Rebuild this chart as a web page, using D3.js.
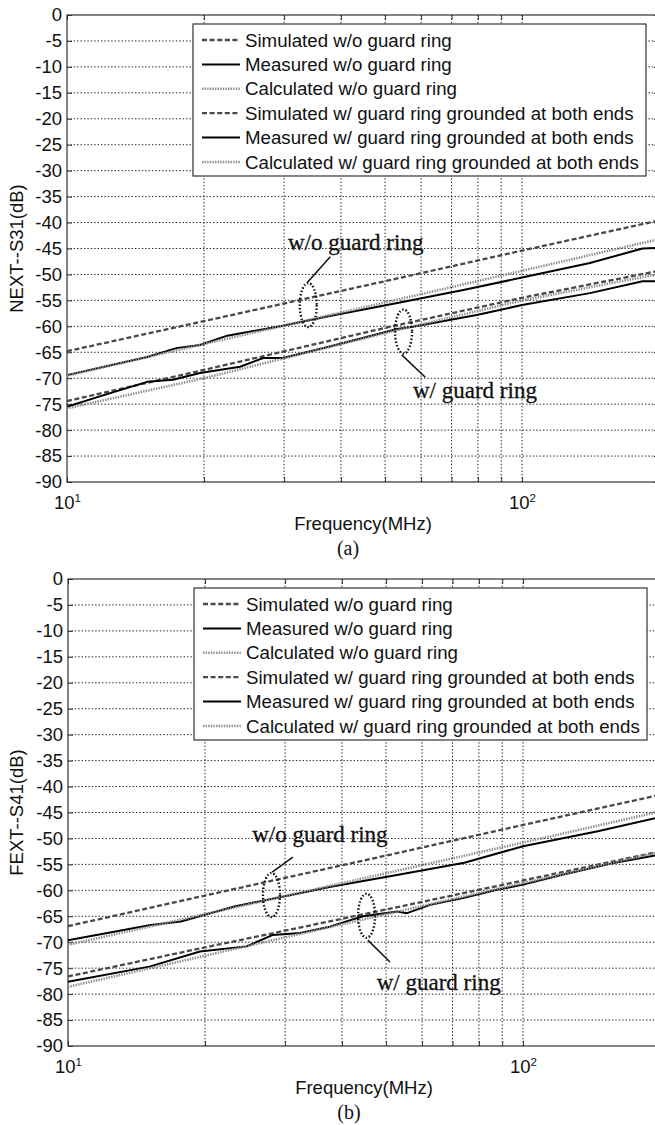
<!DOCTYPE html>
<html>
<head>
<meta charset="utf-8">
<script src="https://cdn.jsdelivr.net/npm/d3@7"></script>
<style>
    body { margin: 0; background: #fff; }
    svg { display: block; }
    text { font-family: "Liberation Sans", Arial, sans-serif; fill: #111; }
    .serif { font-family: "Liberation Serif", "Times New Roman", serif; }
</style>
</head>
<body>
<svg id="chart" width="655" height="1125"></svg>
<script>
// ticks
const freqTicks = [10, 20, 30, 40, 50, 60, 70, 80, 90, 100, 200];
const dbTicks = [0, -5, -10, -15, -20, -25, -30, -35, -40, -45, -50, -55, -60, -65, -70, -75, -80, -85, -90];

const legendLabels = [
    "Simulated w/o guard ring",
    "Measured w/o guard ring",
    "Calculated w/o guard ring",
    "Simulated w/ guard ring grounded at both ends",
    "Measured w/ guard ring grounded at both ends",
    "Calculated w/ guard ring grounded at both ends",
];

// simulated / calculated curves are straight on the log axis
const simFreq = [10, 20, 50, 100, 200];

// (a) NEXT--S31
const nextSimWo = [-64.8, -59.0, -51.3, -45.4, -39.6];
const nextCalcWo = [-69.5, -63.4, -55.4, -49.3, -43.2];
const nextSimW = [-74.4, -68.4, -60.3, -54.5, -49.3];
const nextCalcW = [-75.8, -70.0, -61.3, -55.0, -49.9];
const nextMeasWoFreq = [10, 15, 17.4, 19.6, 22.5, 29.8, 37.8, 53.2, 74.3, 100, 141, 184, 200];
const nextMeasWo = [-69.4, -65.9, -64.2, -63.6, -61.8, -59.9, -58.0, -55.5, -53.0, -50.6, -47.8, -45.0, -44.9];
const nextMeasWFreq = [10, 11.8, 15, 17.1, 19.6, 24, 27, 29.8, 37.8, 53.2, 57.5, 79.5, 100, 141, 184, 200];
const nextMeasW = [-75.5, -73.5, -70.7, -70.3, -69.0, -67.8, -66.1, -66.1, -63.9, -60.5, -60.1, -57.8, -55.9, -53.6, -51.3, -51.3];

// (b) FEXT--S41
const fextSimWo = [-66.9, -61.0, -53.3, -47.4, -41.6];
const fextCalcWo = [-70.5, -64.6, -56.7, -50.8, -44.8];
const fextSimW = [-76.6, -71.0, -63.7, -58.1, -52.5];
const fextCalcW = [-78.6, -72.6, -64.6, -58.6, -52.6];
const fextMeasWoFreq = [10, 15.2, 17.7, 20, 23.2, 29.8, 37.8, 53.2, 74.3, 100, 146, 200];
const fextMeasWo = [-69.6, -66.7, -66.0, -64.7, -63.1, -61.2, -59.3, -57.0, -54.7, -51.5, -48.6, -45.9];
const fextMeasWFreq = [10, 15.1, 19.5, 24.7, 28.2, 32.4, 37.6, 44.5, 52.9, 55.6, 62.5, 73.8, 87.7, 100, 122, 157, 195, 200];
const fextMeasW = [-77.6, -74.7, -71.8, -70.8, -68.6, -68.2, -67.0, -65.0, -64.1, -64.4, -62.8, -61.5, -59.9, -58.9, -57.0, -54.8, -53.3, -53.3];

// callouts: ellipse centre, leader line ends and text anchor (freq, dB)
const nextNotes = [
    { text: "w/o guard ring", ellipse: [33.9, -55.9], line: [[33.7, -51.6], [37.9, -46.6]], at: [30.6, -45.3] },
    { text: "w/ guard ring", ellipse: [54.9, -61.0], line: [[54.4, -65.5], [61.3, -69.8]], at: [57.6, -73.8] },
];
const fextNotes = [
    { text: "w/o guard ring", ellipse: [28.0, -60.9], line: [[28.1, -56.5], [31.2, -53.6]], at: [25.4, -50.7] },
    { text: "w/ guard ring", ellipse: [45.3, -64.9], line: [[45.6, -69.6], [51.0, -73.8]], at: [47.7, -79.2] },
];

const lineStyles = {
    sim: { stroke: "#484848", width: 2.3, dash: "5,2.6" },
    meas: { stroke: "#000", width: 2, dash: null },
    calc: { stroke: "#8c8c8c", width: 2.6, dash: "1.4,1.2" },
};

class CrosstalkChart {
    width = 592;
    height = 467;

    constructor(svg, left, top) {
        this.svg = svg;
        this.left = left;
        this.top = top;
    }

    initialize() {
        this.container = this.svg.append("g")
            .attr("transform", `translate(${this.left}, ${this.top})`);
        this.xScale = d3.scaleLog().domain([10, 200]).range([0, this.width]);
        this.yScale = d3.scaleLinear().domain([-90, 0]).range([this.height, 0]);
    }

    grid() {
        const g = this.container.append("g")
            .attr("stroke", "#222").attr("stroke-width", 1).attr("stroke-dasharray", "1.4,2");
        g.selectAll(".h").data(dbTicks.slice(1, -1)).join("line")
            .attr("x1", 0).attr("x2", this.width)
            .attr("y1", (d) => this.yScale(d)).attr("y2", (d) => this.yScale(d));
        g.selectAll(".v").data(freqTicks.slice(1, -1)).join("line")
            .attr("y1", 0).attr("y2", this.height)
            .attr("x1", (d) => this.xScale(d)).attr("x2", (d) => this.xScale(d));
    }

    axes(yLabel, caption) {
        const c = this.container;
        const fmt = (d) => (d === 10 || d === 100 ? "10" : "");

        c.append("g").call(d3.axisLeft(this.yScale).tickValues(dbTicks).tickSize(-5).tickPadding(5)
            .tickFormat((d) => String(d)));
        c.append("g").attr("transform", `translate(${this.width},0)`)
            .call(d3.axisRight(this.yScale).tickValues(dbTicks).tickSize(-5).tickFormat(""));
        const bottom = c.append("g").attr("transform", `translate(0,${this.height})`)
            .call(d3.axisBottom(this.xScale).tickValues(freqTicks).tickSize(-5).tickPadding(14).tickFormat(fmt));
        c.append("g").call(d3.axisTop(this.xScale).tickValues(freqTicks).tickSize(-5).tickFormat(""));

        c.selectAll(".domain").remove();
        c.selectAll(".tick line").attr("stroke", "#333");
        c.selectAll(".tick text").attr("font-size", 18.5).attr("fill", "#111")
            .attr("font-family", '"Liberation Sans", Arial, sans-serif');

        bottom.selectAll(".tick text").filter((d) => d === 10 || d === 100)
            .append("tspan").attr("font-size", 11.5).attr("dy", "-0.65em")
            .text((d) => String(Math.round(Math.log10(d))));

        c.append("rect")
            .attr("width", this.width).attr("height", this.height)
            .attr("fill", "none").attr("stroke", "#333").attr("stroke-width", 1.2);

        c.append("text")
            .attr("transform", `translate(${23 - this.left}, ${this.height / 2}) rotate(-90)`)
            .attr("text-anchor", "middle").attr("font-size", 18.5)
            .text(yLabel);
        c.append("text")
            .attr("x", this.width / 2).attr("y", this.height + 48)
            .attr("text-anchor", "middle").attr("font-size", 18.5)
            .text("Frequency(MHz)");
        c.append("text").attr("class", "serif")
            .attr("x", this.width / 2 - 15).attr("y", this.height + 73)
            .attr("text-anchor", "middle").attr("font-size", 20)
            .text(caption);
    }

    update(series) {
        const line = d3.line().x((d) => this.xScale(d[0])).y((d) => this.yScale(d[1]));
        this.container.append("g").selectAll("path")
            .data(series)
            .join("path")
            .attr("d", (s) => line(d3.zip(s.freq, s.values)))
            .attr("fill", "none")
            .attr("stroke", (s) => lineStyles[s.kind].stroke)
            .attr("stroke-width", (s) => lineStyles[s.kind].width)
            .attr("stroke-dasharray", (s) => lineStyles[s.kind].dash)
            .attr("stroke-linejoin", "round");
        this.series = series;
    }

    legend() {
        const lg = this.container.append("g").attr("transform", "translate(126, 9)");
        lg.append("rect").attr("width", 453).attr("height", 152)
            .attr("fill", "#fff").attr("stroke", "#333").attr("stroke-width", 1.2);
        const rows = lg.selectAll(".row").data(this.series).join("g")
            .attr("transform", (d, i) => `translate(0, ${16 + i * 24.4})`);
        rows.append("line").attr("x1", 9).attr("x2", 47)
            .attr("stroke", (s) => lineStyles[s.kind].stroke)
            .attr("stroke-width", (s) => lineStyles[s.kind].width)
            .attr("stroke-dasharray", (s) => lineStyles[s.kind].dash);
        rows.append("text").attr("x", 52).attr("dy", "0.35em")
            .attr("font-size", 18.7).text((s) => s.label);
    }

    notes(list) {
        const x = this.xScale, y = this.yScale;
        const g = this.container.append("g");
        g.selectAll("ellipse").data(list).join("ellipse")
            .attr("cx", (d) => x(d.ellipse[0])).attr("cy", (d) => y(d.ellipse[1]))
            .attr("rx", 8.5).attr("ry", 22)
            .attr("fill", "none").attr("stroke", "#111").attr("stroke-width", 2.4)
            .attr("stroke-dasharray", "1.5,2");
        g.selectAll("line").data(list).join("line")
            .attr("x1", (d) => x(d.line[0][0])).attr("y1", (d) => y(d.line[0][1]))
            .attr("x2", (d) => x(d.line[1][0])).attr("y2", (d) => y(d.line[1][1]))
            .attr("stroke", "#111").attr("stroke-width", 1.5);
        g.selectAll("text").data(list).join("text").attr("class", "serif")
            .attr("x", (d) => x(d.at[0])).attr("y", (d) => y(d.at[1]))
            .attr("font-size", 23).attr("stroke", "#111").attr("stroke-width", 0.3)
            .text((d) => d.text);
    }
}

function makeSeries(simWo, measWoF, measWo, calcWo, simW, measWF, measW, calcW) {
    return [
        { kind: "sim", freq: simFreq, values: simWo },
        { kind: "meas", freq: measWoF, values: measWo },
        { kind: "calc", freq: simFreq, values: calcWo },
        { kind: "sim", freq: simFreq, values: simW },
        { kind: "meas", freq: measWF, values: measW },
        { kind: "calc", freq: simFreq, values: calcW },
    ].map((s, i) => ({ ...s, label: legendLabels[i] }));
}

const svg = d3.select("#chart");

const chartA = new CrosstalkChart(svg, 67, 15);
chartA.initialize();
chartA.grid();
chartA.axes("NEXT--S31(dB)", "(a)");
chartA.update(makeSeries(nextSimWo, nextMeasWoFreq, nextMeasWo, nextCalcWo,
    nextSimW, nextMeasWFreq, nextMeasW, nextCalcW));
chartA.legend();
chartA.notes(nextNotes);

const chartB = new CrosstalkChart(svg, 68, 579);
chartB.initialize();
chartB.grid();
chartB.axes("FEXT--S41(dB)", "(b)");
chartB.update(makeSeries(fextSimWo, fextMeasWoFreq, fextMeasWo, fextCalcWo,
    fextSimW, fextMeasWFreq, fextMeasW, fextCalcW));
chartB.legend();
chartB.notes(fextNotes);
</script>
</body>
</html>
